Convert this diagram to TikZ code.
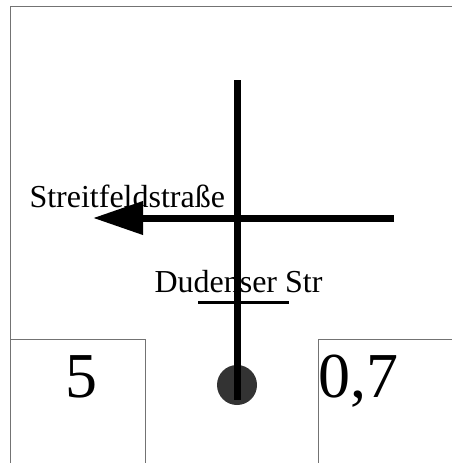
\documentclass[tikz,border=0pt]{standalone}
\usepackage{fontspec}
\setmainfont{Liberation Serif}
\usetikzlibrary{arrows.meta}

\begin{document}
\begin{tikzpicture}[x=1pt,y=-1pt,>={Triangle[length=50pt,width=32pt]},
                    line width=7pt]
  \tikzstyle{frame}=[draw=black!55,line width=1pt]
  \tikzstyle{street}=[font=\fontsize{32}{34}\selectfont,inner sep=0pt,anchor=base west]
  \tikzstyle{sign}=[font=\fontsize{64}{66}\selectfont,inner sep=0pt,anchor=base west]

  \clip (0,0) rectangle (452,463);
  \draw[frame] (10,6)   rectangle (480,490);
  \draw[frame] (10,339) rectangle (145,490);
  \draw[frame] (318,339) rectangle (480,490);

  \node[sign]   (five)  at (62,397)  {5};
  \node[sign]   (seven) at (315,397) {0,7};
  \node[street] (west)  at (26,207)  {Streitfeldstraße};
  \node[street] (south) at (151,292) {Dudenser Str};

  \node[circle,fill=black!80,inner sep=0pt,minimum size=40pt] (stop) at (237,385) {};

  \coordinate (top)   at (237,80);
  \coordinate (foot)  at (237,400);
  \coordinate (east)  at (394,218);
  \coordinate (tip)   at (93,218);
  \coordinate (ul)    at (198,302);
  \coordinate (ur)    at (289,302);

  \draw (top) -- (foot);
  \draw[->] (east) -- (tip);
  \draw[line width=3pt] (ul) -- (ur);
\end{tikzpicture}
\end{document}
